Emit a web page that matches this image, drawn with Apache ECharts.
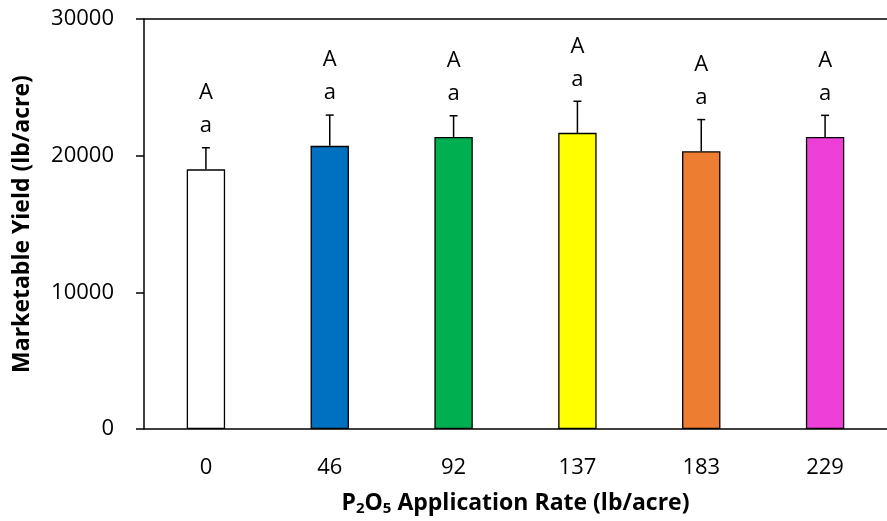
<!DOCTYPE html>
<html>
<head>
<meta charset="utf-8">
<script src="https://cdn.jsdelivr.net/npm/echarts@6/dist/echarts.min.js"></script>
<style>
html,body{margin:0;padding:0;background:#fff;}
#chart{width:887px;height:521px;}
</style>
</head>
<body>
<div id="chart"></div>
<script>
const categories = ['0', '46', '92', '137', '183', '229'];
const yieldValues = [19000, 20720, 21370, 21670, 20320, 21370];
const errorTops = [20580, 22970, 22920, 23980, 22640, 22950];
const upperLetters = ['A', 'A', 'A', 'A', 'A', 'A'];
const lowerLetters = ['a', 'a', 'a', 'a', 'a', 'a'];
const barColors = ['#FFFFFF', '#0070C0', '#00B050', '#FFFF00', '#ED7D31', '#EE3FD8'];
const yTicks = [0, 10000, 20000, 30000];

const FONT = 'Open Sans';
const FS = 22;
const chart = echarts.init(document.getElementById('chart'), null, {renderer: 'canvas'});

chart.setOption({
  animation: false,
  backgroundColor: '#fff',
  grid: {left: 144, top: 19, bottom: 89, width: 746, containLabel: false},
  xAxis: [{
    type: 'category',
    data: categories,
    axisLine: {lineStyle: {color: '#000', width: 1.5}},
    axisTick: {show: false},
    axisLabel: {color: '#000', fontSize: FS, fontFamily: FONT, margin: 28},
    name: 'P{sub|2}O{sub|5} Application Rate (lb/acre)',
    nameLocation: 'middle',
    nameGap: 62,
    nameTextStyle: {
      color: '#000', fontSize: 23, fontWeight: 'bold', fontFamily: FONT,
      rich: {sub: {fontSize: 15, fontWeight: 'bold', fontFamily: FONT, color: '#000', verticalAlign: 'bottom', padding: [10, 0, 0, 0]}}
    }
  }, {
    type: 'category',
    data: categories,
    position: 'top',
    axisLine: {show: true, lineStyle: {color: '#000', width: 1.5}},
    axisTick: {show: false},
    axisLabel: {show: false}
  }],
  yAxis: {
    type: 'value',
    min: yTicks[0],
    max: yTicks[yTicks.length - 1],
    interval: 10000,
    axisLine: {show: true, lineStyle: {color: '#000', width: 1.5}},
    axisTick: {show: true, length: 8, lineStyle: {color: '#000', width: 1.5}},
    splitLine: {show: false},
    axisLabel: {color: '#000', fontSize: FS, fontFamily: FONT, margin: 30, formatter: v => String(v)},
    name: 'Marketable Yield (lb/acre)',
    nameLocation: 'middle',
    nameRotate: 90,
    nameGap: 110,
    nameTextStyle: {color: '#000', fontSize: 23, fontWeight: 'bold', fontFamily: FONT}
  },
  series: [{
    type: 'bar',
    barWidth: '31%',
    data: yieldValues.map((v, i) => ({value: v, itemStyle: {color: barColors[i]}})),
    itemStyle: {borderColor: '#000', borderWidth: 1.3},
    z: 2
  }, {
    type: 'custom',
    data: categories.map((c, i) => [i, yieldValues[i], errorTops[i]]),
    renderItem: function (params, api) {
      const i = api.value(0);
      const base = api.coord([i, api.value(1)]);
      const top = api.coord([i, api.value(2)]);
      const x = base[0];
      const cap = 4;
      return {
        type: 'group',
        children: [
          {type: 'line', shape: {x1: x, y1: base[1], x2: x, y2: top[1]}, style: {stroke: '#000', lineWidth: 1.5}},
          {type: 'line', shape: {x1: x - cap, y1: top[1], x2: x + cap, y2: top[1]}, style: {stroke: '#000', lineWidth: 1.5}},
          {type: 'text', x: x, y: top[1] - 22, style: {text: lowerLetters[params.dataIndex], fill: '#000', font: FS + 'px "' + FONT + '"', align: 'center', verticalAlign: 'middle'}},
          {type: 'text', x: x, y: top[1] - 55, style: {text: upperLetters[params.dataIndex], fill: '#000', font: FS + 'px "' + FONT + '"', align: 'center', verticalAlign: 'middle'}}
        ]
      };
    },
    z: 3
  }]
});
</script>
</body>
</html>
